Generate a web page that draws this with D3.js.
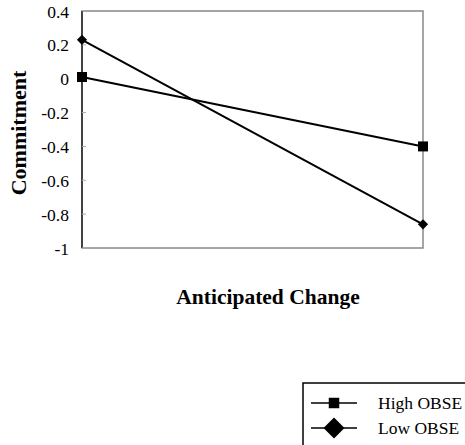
<!DOCTYPE html>
<html>
<head>
<meta charset="utf-8">
<script src="https://d3js.org/d3.v7.min.js"></script>
<style>
    body { margin: 0; background: #fff; }
    text { font-family: "Liberation Serif", "Times New Roman", serif; fill: #000; }
    .domain { display: none; }
</style>
</head>
<body></body>
<script>
    const width = 465,
        height = 445;
    const categories = ["Low", "High"];
    const highObse = [0.01, -0.40];
    const lowObse = [0.23, -0.86];
    const yTicks = [0.4, 0.2, 0, -0.2, -0.4, -0.6, -0.8, -1];
    const series = [
        { name: "High OBSE", values: highObse, shape: d3.symbolSquare, size: 100, rot: 0, legendSize: 110 },
        { name: "Low OBSE", values: lowObse, shape: d3.symbolSquare, size: 52, rot: 45, legendSize: 220 }
    ];

    const svg = d3.select("body").append("svg").attr("width", width).attr("height", height);

    const x = d3.scalePoint().domain(categories).range([82, 423]);
    const y = d3.scaleLinear().domain([-1, 0.4]).range([248, 11]);

    // plot frame (grey stipple on top/right/bottom)
    svg.append("rect")
        .attr("x", 82).attr("y", 11)
        .attr("width", 341).attr("height", 237)
        .attr("fill", "none")
        .attr("stroke", "#888")
        .attr("stroke-width", 1.5);
    svg.append("line")
        .attr("x1", 82).attr("x2", 82).attr("y1", 11).attr("y2", 248)
        .attr("stroke", "#222").attr("stroke-width", 1.5);

    // small inner ticks on left axis
    svg.append("g").selectAll("line")
        .data(yTicks)
        .join("line")
        .attr("x1", 82).attr("x2", 86)
        .attr("y1", d => y(d)).attr("y2", d => y(d))
        .attr("stroke", "#aaa");

    const yAxis = svg.append("g")
        .attr("transform", "translate(69,0)")
        .call(d3.axisLeft(y).tickValues(yTicks).tickSize(0).tickPadding(0)
            .tickFormat(d => String(+d.toFixed(1))));
    yAxis.attr("font-family", null).attr("font-size", null);
    yAxis.selectAll("text")
        .style("font-family", "'Liberation Serif', serif")
        .style("font-size", "17.5px")
        .attr("dy", "0.35em");

    const line = d3.line().x((d, i) => x(categories[i])).y(d => y(d));
    series.forEach(s => {
        svg.append("path")
            .attr("d", line(s.values))
            .attr("fill", "none")
            .attr("stroke", "#000")
            .attr("stroke-width", 2);
        svg.append("g").selectAll("path")
            .data(s.values)
            .join("path")
            .attr("transform", (d, i) => `translate(${x(categories[i])},${y(d)}) rotate(${s.rot})`)
            .attr("d", d3.symbol().type(s.shape).size(s.size))
            .attr("fill", "#000");
    });

    svg.append("text")
        .attr("transform", "translate(26,133) rotate(-90)")
        .attr("text-anchor", "middle")
        .attr("font-size", 22)
        .attr("font-weight", "bold")
        .text("Commitment");

    svg.append("text")
        .attr("x", 268).attr("y", 304)
        .attr("text-anchor", "middle")
        .attr("font-size", 21.5)
        .attr("font-weight", "bold")
        .text("Anticipated Change");

    // legend
    const legend = svg.append("g");
    legend.append("rect")
        .attr("x", 303).attr("y", 383)
        .attr("width", 180).attr("height", 80)
        .attr("fill", "none")
        .attr("stroke", "#000")
        .attr("stroke-width", 1.5);
    series.forEach((s, i) => {
        const ly = 403 + i * 25;
        legend.append("line")
            .attr("x1", 311).attr("x2", 357)
            .attr("y1", ly).attr("y2", ly)
            .attr("stroke", "#000").attr("stroke-width", 1.5);
        legend.append("path")
            .attr("transform", `translate(334,${ly}) rotate(${s.rot})`)
            .attr("d", d3.symbol().type(s.shape).size(s.legendSize))
            .attr("fill", "#000");
        legend.append("text")
            .attr("x", 378).attr("y", ly + 6)
            .attr("font-size", 17.5)
            .text(s.name);
    });
</script>
</html>
